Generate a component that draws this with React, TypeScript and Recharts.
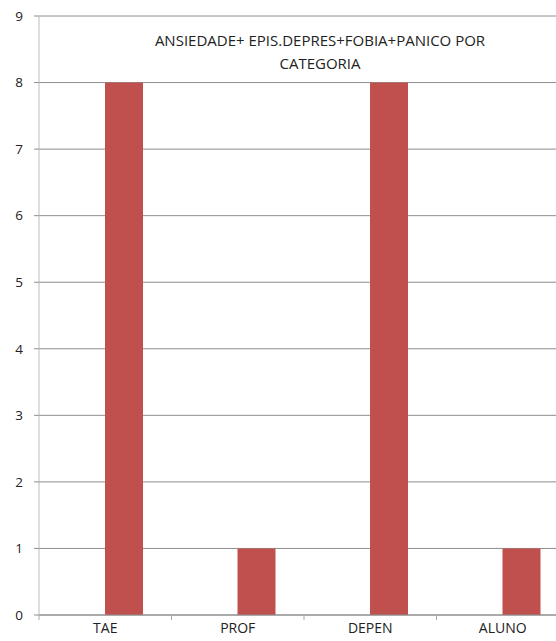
import React from "react";
import { BarChart, Bar, XAxis, YAxis, CartesianGrid } from "recharts";

const categories = ["TAE", "PROF", "DEPEN", "ALUNO"];
const emptySeries: (number | null)[] = [null, null, null, null];
const totals = [8, 1, 8, 1];
const yTicks = [0, 1, 2, 3, 4, 5, 6, 7, 8, 9];

const data = categories.map((name, i) => ({
  name,
  blank: emptySeries[i],
  total: totals[i],
}));

const FONT = "'Open Sans', 'Liberation Sans', sans-serif";
const X_LABEL_GAP = 8;

// Category tick: label at the band centre, tick mark at the band's left edge
const CategoryTick = (props: any) => {
  const { x, y, payload } = props;
  const half = payload && typeof payload.offset === "number" ? payload.offset : 0;
  const axisY = y - X_LABEL_GAP;
  return (
    <g>
      <line x1={x - half} y1={axisY} x2={x - half} y2={axisY + 5} stroke="#a8a8a8" strokeWidth={1} />
      <text x={x} y={y} dy="0.71em" textAnchor="middle" fontSize={14} fontFamily={FONT} fill="#222">
        {payload.value}
      </text>
    </g>
  );
};

export default function App() {
  return (
    <div
      style={{
        position: "absolute",
        left: 0,
        top: 0,
        width: 556,
        height: 641,
        overflow: "hidden",
        background: "#fff",
      }}
    >
      <BarChart
        width={569}
        height={641}
        data={data}
        margin={{ top: 16, right: 0, bottom: 0, left: 0 }}
        barGap={0}
        barSize={38}
      >
        <CartesianGrid vertical={false} stroke="#8e8e8e" strokeWidth={1} />
        <XAxis
          dataKey="name"
          height={26}
          axisLine={{ stroke: "#8e8e8e" }}
          tickLine={false}
          tickSize={0}
          tick={<CategoryTick />}
          tickMargin={X_LABEL_GAP}
          interval={0}
        />
        <YAxis
          width={39}
          domain={[0, 9]}
          ticks={yTicks}
          interval={0}
          axisLine={{ stroke: "#bdbdbd" }}
          tickLine={{ stroke: "#8e8e8e" }}
          tickSize={5}
          tickMargin={11}
          tick={{ fontSize: 13.5, fontFamily: FONT, fill: "#222" }}
        />
        <Bar dataKey="blank" fill="#4f81bd" isAnimationActive={false} />
        <Bar dataKey="total" fill="#c0504d" isAnimationActive={false} />
      </BarChart>
      <div
        style={{
          position: "absolute",
          left: 120,
          width: 400,
          top: 29,
          textAlign: "center",
          fontFamily: FONT,
          fontSize: 15,
          lineHeight: "23px",
          color: "#222",
        }}
      >
        ANSIEDADE+ EPIS.DEPRES+FOBIA+PANICO POR
        <br />
        CATEGORIA
      </div>
    </div>
  );
}
